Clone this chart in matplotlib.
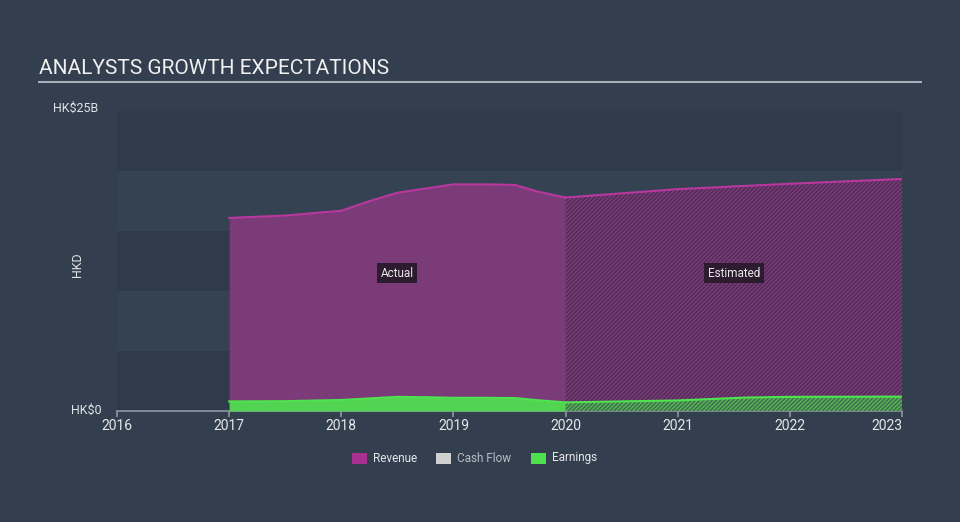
import matplotlib
matplotlib.use('Agg')
import matplotlib.pyplot as plt
from matplotlib.patches import Rectangle

plt.rcParams['font.family'] = ['Roboto', 'DejaVu Sans']
plt.rcParams['hatch.linewidth'] = 1.0

# actual values (HK$ billions)
act_x = [2017.0, 2017.5, 2018.0, 2018.25, 2018.5, 2018.75, 2019.0, 2019.3, 2019.55, 2019.75, 2020.0]
act_rev = [16.1, 16.3, 16.7, 17.5, 18.2, 18.55, 18.9, 18.9, 18.85, 18.3, 17.8]
act_earn = [0.8, 0.82, 0.92, 1.05, 1.18, 1.15, 1.1, 1.1, 1.08, 0.9, 0.72]

# analyst estimates
est_x = [2020.0, 2021.0, 2022.0, 2023.0]
est_rev = [17.8, 18.5, 18.95, 19.35]
est_earn_x = [2020.0, 2021.0, 2021.6, 2022.0, 2023.0]
est_earn = [0.72, 0.88, 1.12, 1.18, 1.2]

years = [2016, 2017, 2018, 2019, 2020, 2021, 2022, 2023]

bg = '#333f4e'
rev_fill = '#7b3a78'
rev_line = '#b8389e'
earn_fill = '#52d452'
earn_line = '#4fe34f'

fig = plt.figure(figsize=(9.6, 5.22), dpi=100, facecolor=bg)
ax = fig.add_axes([117 / 960, 1 - 411 / 522, 785 / 960, 301 / 522])
ax.set_facecolor(bg)
ax.set_xlim(2016, 2023.0)
ax.set_ylim(0, 25.1)

# background bands
for i, lo in enumerate(range(0, 25, 5)):
    c = '#2f3b4a' if i % 2 == 0 else '#344251'
    ax.axhspan(lo, lo + 5, color=c, lw=0, zorder=0)

# revenue
ax.fill_between(act_x, 0, act_rev, color=rev_fill, lw=0, zorder=2)
ax.plot(act_x, act_rev, color=rev_line, lw=1.5, zorder=3)
ax.fill_between(est_x, 0, est_rev, facecolor=rev_fill, edgecolor='#4e2c56',
                hatch='////////', lw=0, zorder=2)
ax.plot(est_x, est_rev, color=rev_line, lw=1.5, zorder=3)

# earnings
ax.fill_between(act_x, 0, act_earn, color=earn_fill, lw=0, zorder=4)
ax.plot(act_x, act_earn, color=earn_line, lw=1.5, zorder=5)
ax.fill_between(est_earn_x, 0, est_earn, facecolor='#58b058', edgecolor='#3c6e4a',
                hatch='////////', lw=0, zorder=4)
ax.plot(est_earn_x, est_earn, color=earn_line, lw=1.5, zorder=5)

# axes styling
for s in ['top', 'right', 'left']:
    ax.spines[s].set_visible(False)
ax.spines['bottom'].set_color('#8c96a4')
ax.spines['bottom'].set_linewidth(1.2)
ax.set_yticks([])
ax.set_xticks(years)
ax.set_xticklabels([str(y) for y in years])
ax.tick_params(axis='x', colors='#8c96a4', length=4, width=1.2, pad=2,
               labelcolor='#e6e8ea', labelsize=10)
ax.get_xticklabels()[-1].set_horizontalalignment('right')

# labels
ax.text(2018.5, 11.5, 'Actual', color='#e8e8e8', fontsize=8.5,
        ha='center', va='center', zorder=6,
        bbox=dict(boxstyle='square,pad=0.3', fc='#2d1b30', ec='none'))
ax.text(2021.5, 11.5, 'Estimated', color='#e8e8e8', fontsize=8.5,
        ha='center', va='center', zorder=6,
        bbox=dict(boxstyle='square,pad=0.3', fc='#2d1b30', ec='none'))

fig.text(53 / 960, 1 - 108 / 522, 'HK$25B', color='#dfe2e6', fontsize=9, va='center')
fig.text(102 / 960, 1 - 410 / 522, 'HK$0', color='#dfe2e6', fontsize=9, va='center', ha='right')
fig.text(77 / 960, 1 - 265 / 522, 'HKD', color='#dfe2e6', fontsize=9, va='center',
         ha='center', rotation=90)

# title
fig.text(39 / 960, 1 - 68 / 522, 'ANALYSTS GROWTH EXPECTATIONS', color='#f0f0f0',
         fontsize=15, va='center')
fig.add_artist(plt.Line2D([39 / 960, 921 / 960], [1 - 82 / 522, 1 - 82 / 522],
                          color='#a8afb8', lw=1.5))

# legend
legend_items = [('Revenue', '#a8318f', '#e6e8ea', 352),
                ('Cash Flow', '#d0d0d0', '#b8bec6', 436),
                ('Earnings', '#4ee04e', '#e6e8ea', 531)]
for name, sw, tc, x0 in legend_items:
    fig.add_artist(Rectangle((x0 / 960, 1 - 464 / 522), 15 / 960, 11 / 522,
                             transform=fig.transFigure, color=sw, lw=0))
    fig.text((x0 + 21) / 960, 1 - 458 / 522, name, color=tc, fontsize=8.5, va='center')

fig.savefig('out.png', dpi=100, facecolor=bg)
